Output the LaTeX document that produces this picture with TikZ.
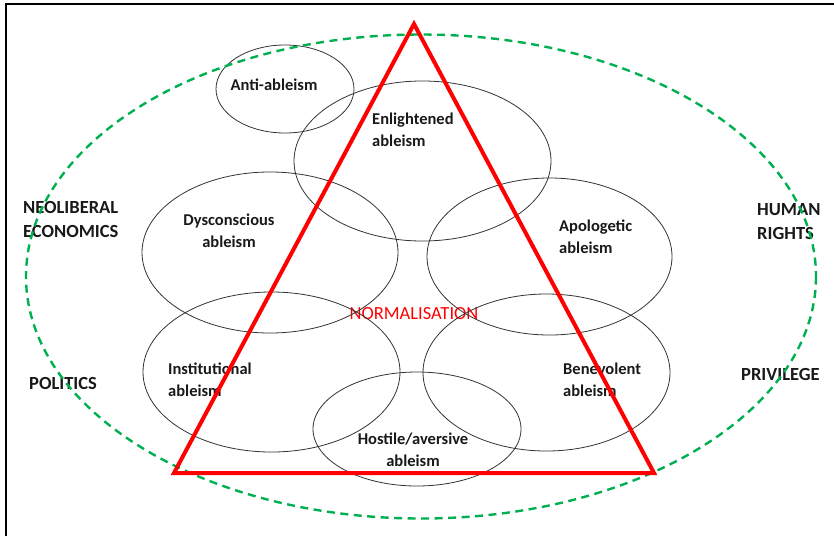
\documentclass[tikz,border=0pt]{standalone}
\usepackage{fontspec}
\setmainfont{Carlito}
\definecolor{offgreen}{HTML}{00B050}
\begin{document}
\begin{tikzpicture}[x=1pt,y=-1pt,
  ell/.style={draw=black!80, line width=0.8pt},
  lbl/.style={font=\bfseries\fontsize{16.5}{22}\selectfont, inner sep=0pt, text=black!90},
  biglbl/.style={font=\bfseries\fontsize{18.5}{24}\selectfont, inner sep=0pt, text=black!90},
  greenring/.style={draw=offgreen, line width=2.4pt, dash pattern=on 8pt off 5.5pt},
  tri/.style={draw=red, line width=4pt, line join=miter}]
\useasboundingbox (0,0) rectangle (834,536);
% frame
\coordinate (fa) at (6,536);
\coordinate (fb) at (6,4);
\coordinate (fc) at (834,4);
\draw[line width=2.2pt] (fa) -- (fb) -- (fc);
% texts
\node[lbl] (anti) at (274,85) {Anti-ableism};
\node[lbl, anchor=west, align=left] (enl) at (372,130) {Enlightened\\ableism};
\node[lbl, align=center] (dys) at (229,231) {Dysconscious\\ableism};
\node[lbl, anchor=west, align=left] (apo) at (559,237) {Apologetic\\ableism};
\node[lbl, anchor=west, align=left] (ins) at (168,380) {Institutional\\ableism};
\node[lbl, anchor=west, align=left] (ben) at (563,380) {Benevolent\\ableism};
\node[lbl, align=center] (hos) at (413,450) {Hostile/aversive\\ableism};
\node[biglbl, anchor=west, align=left] (hum) at (757,222) {HUMAN\\RIGHTS};
\node[biglbl, anchor=west, align=left] (neo) at (23,219) {NEOLIBERAL\\ECONOMICS};
\node[biglbl, anchor=west] (pol) at (29,383) {POLITICS};
\node[biglbl, anchor=west] (pri) at (741,374) {PRIVILEGE};
\node[inner sep=0pt, text=red, font=\fontsize{18.5}{22}\selectfont] (norm) at (414,314) {NORMALISATION};
% ellipses
\draw[ell] (285,89) ellipse [x radius=69, y radius=44];
\draw[ell] (422.5,161) ellipse [x radius=128.5, y radius=80];
\draw[ell] (270,252.5) ellipse [x radius=128, y radius=80.5];
\draw[ell] (549.5,256.5) ellipse [x radius=122.5, y radius=78.5];
\draw[ell] (271.5,372) ellipse [x radius=128.5, y radius=80];
\draw[ell] (546.5,372.5) ellipse [x radius=123.5, y radius=78.5];
\draw[ell] (417,429) ellipse [x radius=104, y radius=57];
% green dashed ring
\draw[greenring] (421,276.5) ellipse [x radius=395, y radius=242];
% triangle
\coordinate (t1) at (414,24);
\coordinate (t2) at (174,473);
\coordinate (t3) at (654,473);
\draw[tri] (t1) -- (t2) -- (t3) -- cycle;
\end{tikzpicture}
\end{document}
